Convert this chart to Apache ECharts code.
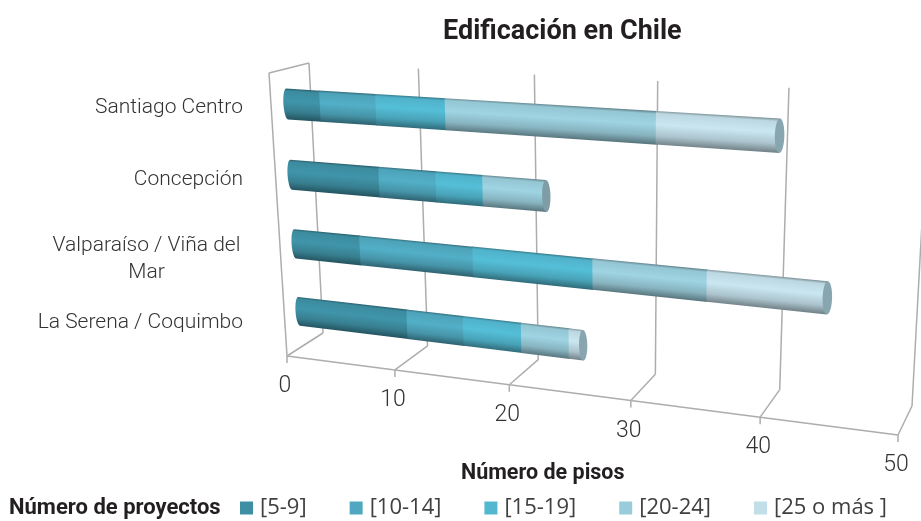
<!DOCTYPE html>
<html>
<head>
<meta charset="utf-8">
<style>html,body{margin:0;padding:0;background:#fff}#chart{width:921px;height:521px}</style>
<script src="https://cdn.jsdelivr.net/npm/echarts@6/dist/echarts.min.js"></script>
</head>
<body>
<div id="chart"></div>
<script>
// Projects per number of floors, by city
const categories = ['Santiago Centro', 'Concepción', 'Valparaíso / Viña del Mar', 'La Serena / Coquimbo'];
const floors5to9 = [3, 8, 6, 10];
const floors10to14 = [5, 5, 10, 5];
const floors15to19 = [6, 4, 10, 5];
const floors20to24 = [17, 5.3, 9, 4];
const floors25plus = [9.2, 0, 9, 1.2];
const axisTicks = [0, 10, 20, 30, 40, 50];

const rangeNames = ['[5-9]', '[10-14]', '[15-19]', '[20-24]', '[25 o más ]'];
const rangeValues = [floors5to9, floors10to14, floors15to19, floors20to24, floors25plus];
const rangeColors = ['#3e8fa3', '#4fa8bf', '#52b8d0', '#99ccda', '#c2dee8'];

// Plot rectangle of the flat cartesian grid; it is re-projected onto the 3D box planes
const GRID = { left: 243, top: 72, width: 655, height: 286 };
const BAR_FRACTION = 0.43;
const CAP_RX = 4.5;
const LINE = '#adadad';
const LIGHT_FONT = 'Roboto';

// Square-to-quad homography: corners in order top-left, top-right, bottom-right, bottom-left
function quadMap(q) {
  const [x0, y0] = q[0], [x1, y1] = q[1], [x2, y2] = q[2], [x3, y3] = q[3];
  const sx = x0 - x1 + x2 - x3, sy = y0 - y1 + y2 - y3;
  const dx1 = x1 - x2, dx2 = x3 - x2, dy1 = y1 - y2, dy2 = y3 - y2;
  const den = dx1 * dy2 - dx2 * dy1;
  const g = (sx * dy2 - dx2 * sy) / den, h = (dx1 * sy - sx * dy1) / den;
  const a = x1 - x0 + g * x1, b = x3 - x0 + h * x3, d = y1 - y0 + g * y1, e = y3 - y0 + h * y3;
  return function (p) {
    const u = (p[0] - GRID.left) / GRID.width, v = (p[1] - GRID.top) / GRID.height;
    const w = g * u + h * v + 1;
    return [(a * u + b * v + x0) / w, (d * u + e * v + y0) / w];
  };
}
const backPlane = quadMap([[309, 63], [929, 95], [912, 406], [323, 333]]);
const frontPlane = quadMap([[269, 73], [912, 107], [898, 435], [287, 356]]);
const midPlane = quadMap([[285, 68], [922, 103], [906, 422], [301, 344.5]]);

function shade(hex, f) {
  const n = parseInt(hex.slice(1), 16);
  const ch = s => Math.min(255, Math.round(((n >> s) & 255) * f));
  return 'rgb(' + ch(16) + ',' + ch(8) + ',' + ch(0) + ')';
}

// Vertical shading of a cylinder, running across the bar axis
function cylinderFill(color, a, b, thickness) {
  const dx = b[0] - a[0], dy = b[1] - a[1], len = Math.hypot(dx, dy) || 1;
  const nx = -dy / len, ny = dx / len;
  const mx = (a[0] + b[0]) / 2, my = (a[1] + b[1]) / 2, t = thickness / 2;
  return new echarts.graphic.LinearGradient(mx - nx * t, my - ny * t, mx + nx * t, my + ny * t, [
    { offset: 0, color: shade(color, 0.66) },
    { offset: 0.08, color: shade(color, 0.97) },
    { offset: 0.4, color: shade(color, 1.04) },
    { offset: 0.74, color: shade(color, 0.88) },
    { offset: 1, color: shade(color, 0.58) }
  ], true);
}

function renderSegment(k) {
  return function (params, api) {
    const i = api.value(1), own = api.value(0);
    if (!own) return null;
    let start = 0;
    for (let j = 0; j < k; j++) start += rangeValues[j][i];
    const end = start + own;
    let isLast = true;
    for (let j = k + 1; j < rangeValues.length; j++) if (rangeValues[j][i]) isLast = false;
    const half = api.size([0, 1])[1] * BAR_FRACTION / 2;
    const s = api.coord([start, i]), e = api.coord([end, i]);
    // A hair of overlap under the next segment keeps the joints free of seams
    const ex = isLast ? e[0] : e[0] + 1;
    const pts = [];
    if (k === 0) {
      for (let t = -90; t <= 90; t += 15) {
        const r = t * Math.PI / 180;
        pts.push(midPlane([s[0] - CAP_RX * Math.cos(r), s[1] + half * Math.sin(r)]));
      }
      pts.reverse();
    } else {
      pts.push(midPlane([s[0], s[1] + half]), midPlane([s[0], s[1] - half]));
    }
    pts.push(midPlane([ex, e[1] - half]), midPlane([ex, e[1] + half]));
    const a = midPlane(s), b = midPlane(e);
    const top = midPlane([(s[0] + e[0]) / 2, s[1] - half]), bot = midPlane([(s[0] + e[0]) / 2, s[1] + half]);
    const thick = Math.hypot(top[0] - bot[0], top[1] - bot[1]);
    const color = rangeColors[k];
    const children = [{
      type: 'polygon',
      shape: { points: pts },
      style: { fill: cylinderFill(color, a, b, thick) }
    }];
    if (isLast) {
      const face = [];
      for (let t = 0; t < 360; t += 15) {
        const r = t * Math.PI / 180;
        face.push(midPlane([e[0] + CAP_RX * Math.cos(r), e[1] + half * Math.sin(r)]));
      }
      children.push({
        type: 'polygon',
        shape: { points: face },
        style: { fill: shade(k === 4 ? '#a9cfdc' : '#9fc4d0', 0.8) }
      });
    }
    return { type: 'group', children };
  };
}

function seg(p, q) {
  return { type: 'line', shape: { x1: p[0], y1: p[1], x2: q[0], y2: q[1] }, style: { stroke: LINE, lineWidth: 1.5 } };
}

// Back-wall gridlines, floor rulings, front axis line, tick marks and the value labels
function renderBox(params, api) {
  const v = api.value(0);
  const bottom = api.coord([v, 3]);
  const half = api.size([0, 1])[1] / 2;
  const low = [bottom[0], bottom[1] + half], high = [bottom[0], GRID.top];
  const fb = frontPlane(low), bb = backPlane(low);
  const children = [seg(bb, backPlane(high)), seg(fb, bb), seg(fb, [fb[0], fb[1] + 7])];
  if (params.dataIndex < axisTicks.length - 1) {
    const next = api.coord([axisTicks[params.dataIndex + 1], 3]);
    children.push(seg(fb, frontPlane([next[0], low[1]])));
  }
  if (v === 0) {
    children.push(seg(fb, frontPlane(high)), seg(frontPlane(high), backPlane(high)));
  }
  children.push({
    type: 'text',
    style: {
      x: fb[0] - 2, y: fb[1] + 30.5,
      text: String(v), align: 'center', verticalAlign: 'middle',
      font: '300 23px ' + LIGHT_FONT, fill: '#333'
    }
  });
  return { type: 'group', children };
}

const boxSeries = {
  type: 'custom',
  name: 'box',
  silent: true,
  clip: false,
  data: axisTicks.map(t => [t]),
  renderItem: renderBox
};

const barSeries = rangeNames.map((name, k) => ({
  type: 'custom',
  name,
  silent: true,
  clip: false,
  itemStyle: { color: rangeColors[k] },
  encode: { x: 0, y: 1 },
  data: rangeValues[k].map((val, i) => [val, i]),
  renderItem: renderSegment(k)
}));

const chart = echarts.init(document.getElementById('chart'), null, { renderer: 'canvas' });
chart.setOption({
  animation: false,
  backgroundColor: '#fff',
  title: [
    { text: 'Edificación en Chile', left: 443, top: 19, padding: 0,
      textStyle: { fontFamily: 'Roboto', fontWeight: 'bold', fontSize: 27, color: '#231f20' } },
    { text: 'Número de pisos', left: 461, top: 463, padding: 0,
      textStyle: { fontFamily: 'Roboto', fontWeight: 'bold', fontSize: 21.5, color: '#231f20' } },
    { text: 'Número de proyectos', left: 9, top: 497, padding: 0,
      textStyle: { fontFamily: 'Roboto', fontWeight: 'bold', fontSize: 22, color: '#231f20' } }
  ],
  legend: {
    data: rangeNames,
    left: 240,
    top: 497,
    padding: 0,
    icon: 'rect',
    itemWidth: 13,
    itemHeight: 13,
    itemGap: 43,
    selectedMode: false,
    textStyle: { fontFamily: 'Open Sans', fontSize: 22, color: '#404040', padding: [4, 0, 0, 2] }
  },
  grid: GRID,
  xAxis: { type: 'value', min: 0, max: 50, interval: 10, show: false },
  yAxis: {
    type: 'category',
    inverse: true,
    data: categories,
    axisLine: { show: false },
    axisTick: { show: false },
    splitLine: { show: false },
    axisLabel: {
      margin: 0,
      fontFamily: LIGHT_FONT,
      fontWeight: 300,
      fontSize: 21,
      color: '#333',
      formatter: function (name) {
        return name === categories[2] ? '{gap| }\n{wrap|Valparaíso / Viña del}\n{wrap|Mar}' : name;
      },
      rich: {
        gap: { lineHeight: 17, fontSize: 1 },
        wrap: { width: 193, align: 'center', lineHeight: 27, fontFamily: LIGHT_FONT, fontWeight: 300, fontSize: 21, color: '#333' }
      }
    }
  },
  series: [boxSeries].concat(barSeries)
});
</script>
</body>
</html>
